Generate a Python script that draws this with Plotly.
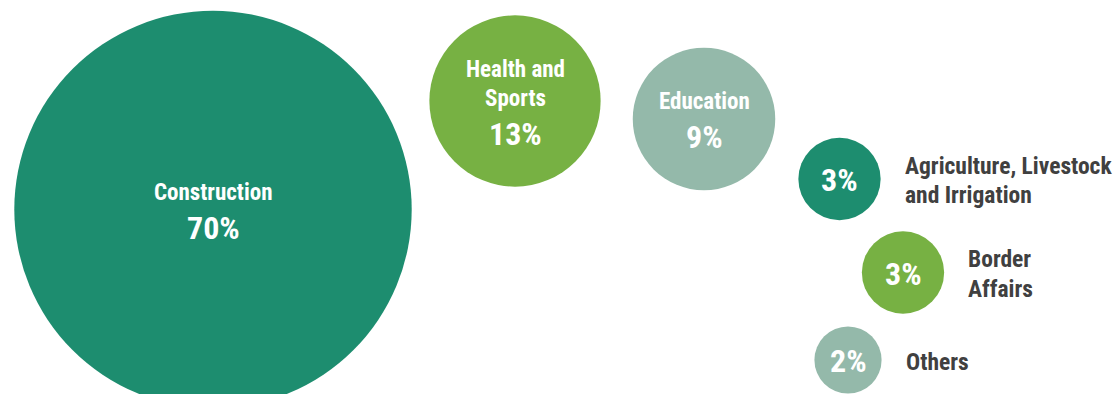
import plotly.graph_objects as go

# Budget share by sector (%)
categories = ["Construction", "Health and Sports", "Education",
              "Agriculture, Livestock and Irrigation", "Border Affairs", "Others"]
shares = [70, 13, 9, 3, 3, 2]
name_lines = [["Construction"], ["Health and", "Sports"], ["Education"],
              ["Agriculture, Livestock", "and Irrigation"], ["Border", "Affairs"], ["Others"]]
label_inside = [True, True, True, False, False, False]

# Layout of the bubble cluster in pixel space
W, H = 1115, 394
bubble_x = [213, 515, 704, 839.5, 903, 848]
bubble_y = [209.5, 101, 119, 179, 272.5, 360]
colors = ["#1d8d6f", "#77b143", "#94b9aa", "#1d8d6f", "#77b143", "#94b9aa"]

K = 47.5  # px of diameter per sqrt(percent)
FONT = "Roboto Condensed, Liberation Sans Narrow, Roboto, sans-serif"
NAME_SIZE = 23
PCT_SIZE = 32
SIDE_SIZE = 23.5
LINE_PITCH = 29.5
PCT_GAP = 35.5
DARK = "#404040"

fig = go.Figure()
fig.add_trace(go.Scatter(
    x=bubble_x, y=bubble_y, mode="markers",
    # area sizing: diameter = K * sqrt(share)
    marker=dict(size=shares, sizemode="area", sizeref=2 / K ** 2,
                color=colors, line=dict(width=0), opacity=1),
    hoverinfo="skip", showlegend=False,
))

annotations = []
for cat, val, lines, inside, cx, cy in zip(categories, shares, name_lines,
                                           label_inside, bubble_x, bubble_y):
    pct = f"{val}%"
    if inside:
        n = len(lines)
        # vertical block: name lines, then percentage line
        block = (n - 1) * LINE_PITCH + PCT_GAP
        name_top = cy + 0.5 - block / 2
        for i, ln in enumerate(lines):
            annotations.append(dict(
                x=cx, y=name_top + i * LINE_PITCH, text=ln, showarrow=False,
                xanchor="center", yanchor="middle",
                font=dict(family=FONT, size=NAME_SIZE, color="white", weight=700)))
        annotations.append(dict(
            x=cx, y=name_top + (n - 1) * LINE_PITCH + PCT_GAP, text=pct, showarrow=False,
            xanchor="center", yanchor="middle",
            font=dict(family=FONT, size=PCT_SIZE, color="white", weight=700)))
    else:
        annotations.append(dict(
            x=cx, y=cy + 1, text=pct, showarrow=False,
            xanchor="center", yanchor="middle",
            font=dict(family=FONT, size=PCT_SIZE, color="white", weight=700)))
        r = K * val ** 0.5 / 2
        n = len(lines)
        for i, ln in enumerate(lines):
            annotations.append(dict(
                x=cx + r + 22, y=cy + 1.5 + (i - (n - 1) / 2) * LINE_PITCH, text=ln,
                showarrow=False, xanchor="left", yanchor="middle",
                font=dict(family=FONT, size=SIDE_SIZE, color=DARK, weight=700)))

fig.update_layout(
    width=W, height=H,
    margin=dict(l=0, r=0, t=0, b=0),
    paper_bgcolor="white", plot_bgcolor="white",
    xaxis=dict(range=[0, W], visible=False, fixedrange=True),
    yaxis=dict(range=[H, 0], visible=False, fixedrange=True),
    annotations=annotations,
    showlegend=False,
)

fig.write_html("out.html", config={"displayModeBar": False})
